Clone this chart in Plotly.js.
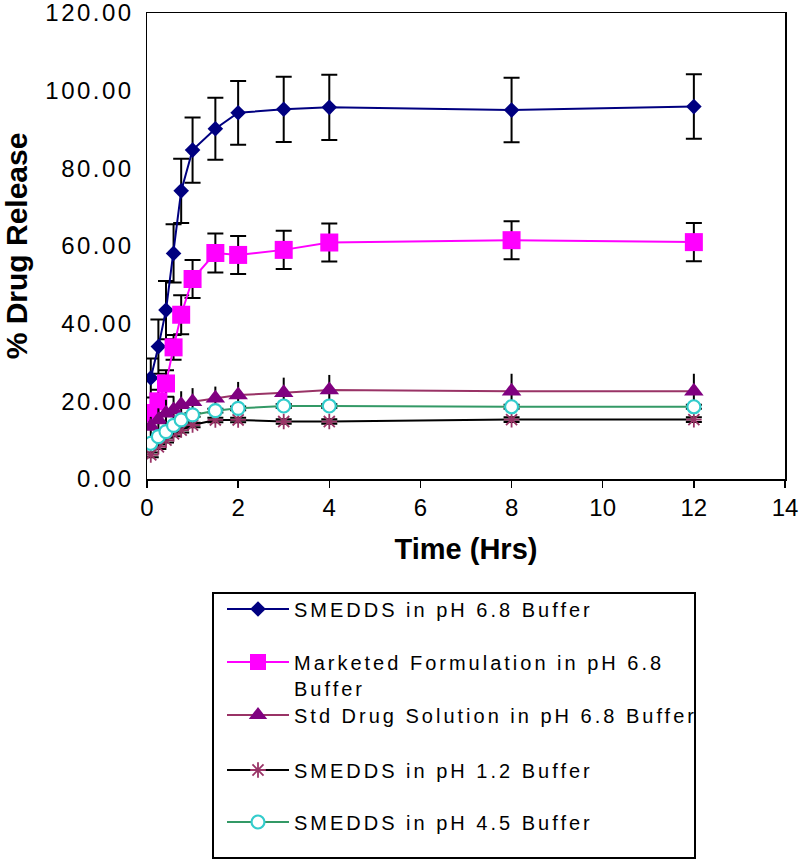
<!DOCTYPE html>
<html>
<head>
<meta charset="utf-8">
<script src="https://cdn.plot.ly/plotly-3.0.1.min.js"></script>
<style>
  html, body { margin: 0; padding: 0; background: #fff; }
  #chart { width: 799px; height: 862px; }
  .legendtext, .legendtext tspan, g[class*="legend"] text { letter-spacing: 3px !important; }
  .ytick text { letter-spacing: 2.5px; }
</style>
</head>
<body>
<div id="chart"></div>
<script>
// Time points (hours)
const timeHrs = [0.083, 0.25, 0.417, 0.583, 0.75, 1, 1.5, 2, 3, 4, 8, 12];

// Series names
const seriesNames = [
  'SMEDDS in pH 6.8 Buffer',
  'Marketed Formulation in pH 6.8<br>Buffer',
  'Std Drug Solution in pH 6.8 Buffer',
  'SMEDDS in pH 1.2 Buffer',
  'SMEDDS in pH 4.5 Buffer'
];

// % drug release values
const smeddsPh68 = [26.0, 34.1, 43.5, 58.1, 74.2, 84.7, 90.2, 94.3, 95.2, 95.7, 95.0, 95.9];
const marketedPh68 = [17.0, 20.0, 24.6, 33.9, 42.3, 51.5, 58.2, 57.7, 59.0, 60.9, 61.5, 61.0];
const stdDrugPh68 = [13.5, 15.2, 16.9, 17.8, 19.1, 19.9, 20.8, 21.6, 22.2, 22.9, 22.6, 22.6];
const smeddsPh12 = [6.2, 8.3, 10.0, 11.6, 12.6, 13.9, 15.2, 15.2, 14.8, 14.8, 15.3, 15.3];
const smeddsPh45 = [9.2, 10.9, 12.2, 13.8, 15.2, 16.5, 17.6, 18.2, 18.8, 18.8, 18.6, 18.6];

// Standard deviations (error bars)
const sdSmeddsPh68 = [5.0, 7.0, 7.5, 7.5, 8.3, 8.4, 8.0, 8.2, 8.4, 8.4, 8.3, 8.3];
const sdMarketedPh68 = [2.0, 3.0, 3.4, 3.2, 5.0, 4.9, 5.0, 4.9, 4.9, 4.9, 4.9, 4.9];
const sdStdDrugPh68 = [2.5, 3.0, 3.5, 3.5, 3.5, 3.5, 3.0, 3.4, 3.9, 3.9, 4.5, 4.5];
const sdSmeddsPh12 = [0.6, 0.6, 0.6, 0.6, 0.6, 0.6, 0.6, 0.6, 0.6, 0.6, 0.6, 0.6];
const sdSmeddsPh45 = [0.5, 0.5, 0.5, 0.5, 0.5, 0.5, 0.5, 0.5, 0.5, 0.5, 0.5, 0.5];

// Axis tick values
const xTicks = [0, 2, 4, 6, 8, 10, 12, 14];
const yTicks = [0, 20, 40, 60, 80, 100, 120];

function errBar(arr, capWidth) {
  return { type: 'data', array: arr, visible: true, color: '#000000', thickness: 2, width: capWidth };
}

const traces = [
  {
    x: timeHrs, y: smeddsPh68, name: seriesNames[0], type: 'scatter', mode: 'lines+markers',
    line: { color: '#000080', width: 2 },
    marker: { symbol: 'diamond', size: 12, color: '#000080' },
    error_y: errBar(sdSmeddsPh68, 8), legend: 'legend'
  },
  {
    x: timeHrs, y: marketedPh68, name: seriesNames[1], type: 'scatter', mode: 'lines+markers',
    line: { color: '#FF00FF', width: 2 },
    marker: { symbol: 'square', size: 18, color: '#FF00FF' },
    error_y: errBar(sdMarketedPh68, 8), legend: 'legend2'
  },
  {
    x: timeHrs, y: stdDrugPh68, name: seriesNames[2], type: 'scatter', mode: 'lines+markers',
    line: { color: '#993366', width: 2 },
    marker: { symbol: 'triangle-up', size: 17, color: '#800080' },
    error_y: errBar(sdStdDrugPh68, 0), legend: 'legend3'
  },
  {
    x: timeHrs, y: smeddsPh12, name: seriesNames[3], type: 'scatter', mode: 'lines+markers',
    line: { color: '#000000', width: 2 },
    marker: { symbol: 'asterisk-open', size: 13, color: '#993366', line: { color: '#993366', width: 1.8 } },
    error_y: errBar(sdSmeddsPh12, 8), legend: 'legend4'
  },
  {
    x: timeHrs, y: smeddsPh45, name: seriesNames[4], type: 'scatter', mode: 'lines+markers',
    line: { color: '#339966', width: 2 },
    marker: { symbol: 'circle', size: 13, color: '#FFFFFF', line: { color: '#33CCCC', width: 2.2 } },
    error_y: errBar(sdSmeddsPh45, 8), legend: 'legend5'
  }
];

// plot area in px: left 147, right 785, top 13, bottom 479
const L = 147, R = 785, T = 13, B = 479, W = 799, H = 862;
const px2x = p => (p - L) / (R - L);
const px2y = p => (B - p) / (B - T);

const legendFont = { family: 'Liberation Sans, Arial, sans-serif', size: 20, color: '#000000' };
const legendX = px2x(222);
const itemCenters = [609, 662, 715, 770, 822];
function legendCfg(i) {
  return {
    x: legendX, y: px2y(itemCenters[i] - 19.5), xanchor: 'left', yanchor: 'top',
    font: legendFont, bgcolor: 'rgba(0,0,0,0)', borderwidth: 0,
    itemwidth: 62, valign: 'top', orientation: 'v'
  };
}

const layout = {
  width: W, height: H,
  margin: { l: L, r: W - R, t: T, b: H - B, pad: 0 },
  paper_bgcolor: '#FFFFFF', plot_bgcolor: '#FFFFFF',
  showlegend: true,
  font: { family: 'Liberation Sans, Arial, sans-serif', color: '#000000' },
  xaxis: {
    range: [0, 14], tickvals: xTicks, ticktext: xTicks.map(String),
    showline: true, mirror: true, linecolor: '#000000', linewidth: 1.5,
    ticks: 'outside', ticklen: 7, tickwidth: 1.5, tickcolor: '#000000',
    showgrid: false, zeroline: false, ticklabeloverflow: 'allow',
    tickfont: { family: 'Liberation Sans, Arial, sans-serif', size: 24, color: '#000000' },
    title: { text: 'Time (Hrs)', standoff: 18,
      font: { family: 'Liberation Sans, Arial, sans-serif', size: 29, weight: 'bold', color: '#000000' } }
  },
  yaxis: {
    range: [0, 120], tickvals: yTicks, ticktext: yTicks.map(v => v.toFixed(2)),
    showline: true, mirror: true, linecolor: '#000000', linewidth: 1.5,
    ticks: '', ticklabelstandoff: 7, ticklabeloverflow: 'allow',
    showgrid: false, zeroline: false,
    tickfont: { family: 'Liberation Sans, Arial, sans-serif', size: 24, color: '#000000' },
    title: { text: '% Drug Release', standoff: 14,
      font: { family: 'Liberation Sans, Arial, sans-serif', size: 30, weight: 'bold', color: '#000000' } }
  },
  legend: legendCfg(0),
  legend2: legendCfg(1),
  legend3: legendCfg(2),
  legend4: legendCfg(3),
  legend5: legendCfg(4),
  shapes: [{
    type: 'rect', xref: 'paper', yref: 'paper',
    x0: px2x(213), x1: px2x(695), y0: px2y(593), y1: px2y(858),
    line: { color: '#000000', width: 2 }, fillcolor: 'rgba(0,0,0,0)', layer: 'above'
  }]
};

function spaceLegendText(gd) {
  gd.querySelectorAll('text.legendtext').forEach(t => {
    t.style.letterSpacing = '3px';
    t.querySelectorAll('tspan').forEach(ts => { ts.style.letterSpacing = '3px'; });
  });
  // legend boxes were sized before spacing; let the spaced text show in full
  gd.querySelectorAll('.infolayer [clip-path]').forEach(e => e.removeAttribute('clip-path'));
}

Plotly.newPlot('chart', traces, layout, { displayModeBar: false, staticPlot: true }).then(gd => {
  spaceLegendText(gd);
  setTimeout(() => spaceLegendText(gd), 50);
});
</script>
</body>
</html>
